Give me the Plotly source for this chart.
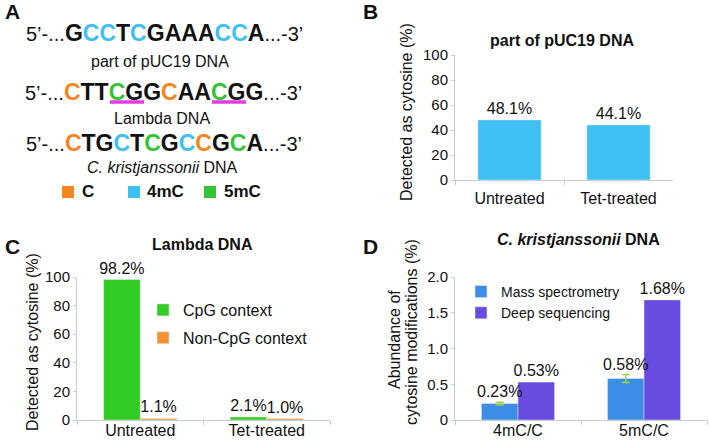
import plotly.graph_objects as go

W, H = 709, 440
FONT = "Liberation Sans, Arial, sans-serif"

# ---------------- data ----------------
b_categories = ["Untreated", "Tet-treated"]
b_values = [48.1, 44.1]

c_categories = ["Untreated", "Tet-treated"]
c_cpg = [98.2, 2.1]
c_noncpg = [1.1, 1.0]

d_categories = ["4mC/C", "5mC/C"]
d_mass = [0.23, 0.58]
d_mass_err = [0.02, 0.055]
d_deep = [0.53, 1.68]

pct_ticks = [0, 20, 40, 60, 80, 100]
abund_ticks = [0, 0.5, 1.0, 1.5, 2.0]
abund_ticktext = ["0", "0.5", "1.0", "1.5", "2.0"]

# sequences; kinds: k=other base, C=unmodified C, 4=4mC, 5=5mC
seq_puc = "GCCTCGAAACCA"
seq_puc_kind = "k44k4kkkk44k"
seq_lambda = "CTTCGGCAACGG"
seq_lambda_kind = "Ckk5kkCkk5kk"
seq_ck = "CTGCTCGCCGCA"
seq_ck_kind = "Ckk4k5k4Ck5k"

COL_C = "#F5861F"
COL_4 = "#3EC0F2"
COL_5 = "#33C433"
kind_col = {"k": "#111111", "C": COL_C, "4": COL_4, "5": COL_5}


def px(x):
    return x / W


def py(y):
    return 1 - y / H


def seq_html(seq, kinds):
    s = "5\u2019-..."
    for ch, k in zip(seq, kinds):
        s += f"<span style='color:{kind_col[k]};font-size:23px'><b>{ch}</b></span>"
    s += "...-3\u2019"
    return s


LBL = dict(size=16, color="#111")
BARGAP = 0.42
fig = go.Figure()

# Panel B
fig.add_trace(go.Bar(x=b_categories, y=b_values, marker_color="#3EC0F2",
                     text=[f"{v:.1f}%" for v in b_values], textposition="outside",
                     textfont=LBL, cliponaxis=False, constraintext="none",
                     showlegend=False, xaxis="x", yaxis="y"))

# Panel C
fig.add_trace(go.Bar(x=c_categories, y=c_cpg, name="CpG context", marker_color="#33CC22",
                     text=[f"{v:.1f}%" for v in c_cpg], textposition="outside",
                     textfont=LBL, cliponaxis=False, constraintext="none",
                     legend="legend", legendgroup="g1", xaxis="x2", yaxis="y2"))
fig.add_trace(go.Bar(x=c_categories, y=c_noncpg, name="Non-CpG context", marker_color="#F39131",
                     text=[f"{v:.1f}%" for v in c_noncpg], textposition="outside",
                     textfont=LBL, cliponaxis=False, constraintext="none",
                     legend="legend", legendgroup="g2", xaxis="x2", yaxis="y2"))

# Panel D
fig.add_trace(go.Bar(x=d_categories, y=d_mass, name="Mass spectrometry", marker_color="#3B8DE6",
                     error_y=dict(type="data", array=d_mass_err, color="#9FD33F", thickness=1.5, width=4),
                     legend="legend2", xaxis="x3", yaxis="y3"))
fig.add_trace(go.Bar(x=d_categories, y=d_deep, name="Deep sequencing", marker_color="#6A4BDF",
                     text=[f"{v:.2f}%" for v in d_deep], textposition="outside",
                     textfont=LBL, cliponaxis=False, constraintext="none",
                     legend="legend2", xaxis="x3", yaxis="y3"))

xcommon = dict(showline=True, linecolor="#C4CCCC", linewidth=1, ticks="outside", tickson="boundaries",
               ticklen=4, tickcolor="#C4CCCC", tickfont=dict(size=16, color="#111"), fixedrange=True)
ycommon = dict(showline=True, linecolor="#C4CCCC", linewidth=1, showgrid=False, zeroline=False,
               ticks="outside", ticklen=3, tickcolor="#C4CCCC",
               tickfont=dict(size=15, color="#111"), fixedrange=True)

D_X0, D_X1 = 455, 707

fig.update_layout(
    width=W, height=H, margin=dict(l=0, r=0, t=0, b=0, autoexpand=False),
    paper_bgcolor="white", plot_bgcolor="white",
    font=dict(family=FONT, color="#111"),
    barmode="group",
    xaxis=dict(domain=[px(455), px(673)], anchor="y", ticklabelstandoff=4, **xcommon),
    yaxis=dict(domain=[py(180), py(55)], anchor="x", range=[0, 100], tickvals=pct_ticks, **ycommon),
    xaxis2=dict(domain=[px(77), px(330)], anchor="y2", ticklabelstandoff=-4, **xcommon),
    yaxis2=dict(domain=[py(420), py(277)], anchor="x2", range=[0, 100], tickvals=pct_ticks, **ycommon),
    xaxis3=dict(domain=[px(D_X0), px(D_X1)], anchor="y3", ticklabelstandoff=-4, **xcommon),
    yaxis3=dict(domain=[py(420), py(277)], anchor="x3", range=[0, 2.0], tickvals=abund_ticks,
                ticktext=abund_ticktext, **ycommon),
    bargap=BARGAP,
    legend=dict(x=px(143), y=py(293), xanchor="left", yanchor="top", font=dict(size=16),
                bgcolor="rgba(0,0,0,0)", tracegroupgap=4),
    legend2=dict(x=px(461), y=py(276), xanchor="left", yanchor="top", font=dict(size=14),
                 bgcolor="rgba(0,0,0,0)"),
)

ann = []


def A(text, x, y, size=16, **kw):
    ann.append(dict(text=text, x=px(x), y=py(y), xref="paper", yref="paper", showarrow=False,
                    xanchor=kw.pop("xanchor", "center"), yanchor=kw.pop("yanchor", "middle"),
                    font=dict(size=size, color=kw.pop("color", "#111"), family=FONT), **kw))


# panel letters
A("<b>A</b>", 3, 12, size=21, xanchor="left")
A("<b>B</b>", 361, 12, size=21, xanchor="left")
A("<b>C</b>", 3, 246, size=21, xanchor="left")
A("<b>D</b>", 361, 246, size=21, xanchor="left")

# panel A text
A(seq_html(seq_puc, seq_puc_kind), 164, 33, size=20)
A("part of pUC19 DNA", 160, 62, size=16)
A(seq_html(seq_lambda, seq_lambda_kind), 163, 92, size=20)
A("Lambda DNA", 162, 118, size=16)
A(seq_html(seq_ck, seq_ck_kind), 164, 143, size=20)
A("<i>C. kristjanssonii</i> DNA", 162, 167, size=16)
A("<b>C</b>", 80, 192, size=17, xanchor="left")
A("<b>4mC</b>", 145, 192, size=17, xanchor="left")
A("<b>5mC</b>", 222, 192, size=17, xanchor="left")

# panel titles
A("<b>part of pUC19 DNA</b>", 562, 40, size=16)
A("<b>Lambda DNA</b>", 202, 245, size=16)
A("<b><i>C. kristjanssonii</i> DNA</b>", 578, 240, size=16)

# y-axis titles
A("Detected as cytosine (%)", 407, 112, size=16, textangle=-90)
A("Detected as cytosine (%)", 32, 342, size=16, textangle=-90)
A("Abundance of", 394, 340, size=16, textangle=-90)
A("cytosine modifications (%)", 411, 332, size=16, textangle=-90)

# value labels of the mass-spectrometry bars sit above their error bars
cat_w = (D_X1 - D_X0) / len(d_categories)
bar_w = cat_w * (1 - BARGAP) / 2
for cat, v, e in zip(d_categories, d_mass, d_mass_err):
    ann.append(dict(text=f"{v:.2f}%", x=cat, y=v + e, xref="x3", yref="y3", showarrow=False,
                    xanchor="center", yanchor="bottom", xshift=-bar_w / 2, yshift=0,
                    font=dict(size=16, color="#111", family=FONT)))

fig.update_layout(annotations=ann)

# legend squares for panel A
for x0, col in [(62, COL_C), (128, COL_4), (204, COL_5)]:
    fig.add_shape(type="rect", xref="paper", yref="paper", x0=px(x0), x1=px(x0 + 12),
                  y0=py(198), y1=py(186), fillcolor=col, line=dict(width=0))

# CpG underlines in panel A
for x0, x1 in [(110, 144), (212, 246)]:
    fig.add_shape(type="line", xref="paper", yref="paper", x0=px(x0), x1=px(x1), y0=py(102), y1=py(102),
                  line=dict(color="#E43BE4", width=3.5))

fig.write_html("out.html", config={"displayModeBar": False},
               post_script="document.body.style.margin='0';document.body.style.padding='0';")
